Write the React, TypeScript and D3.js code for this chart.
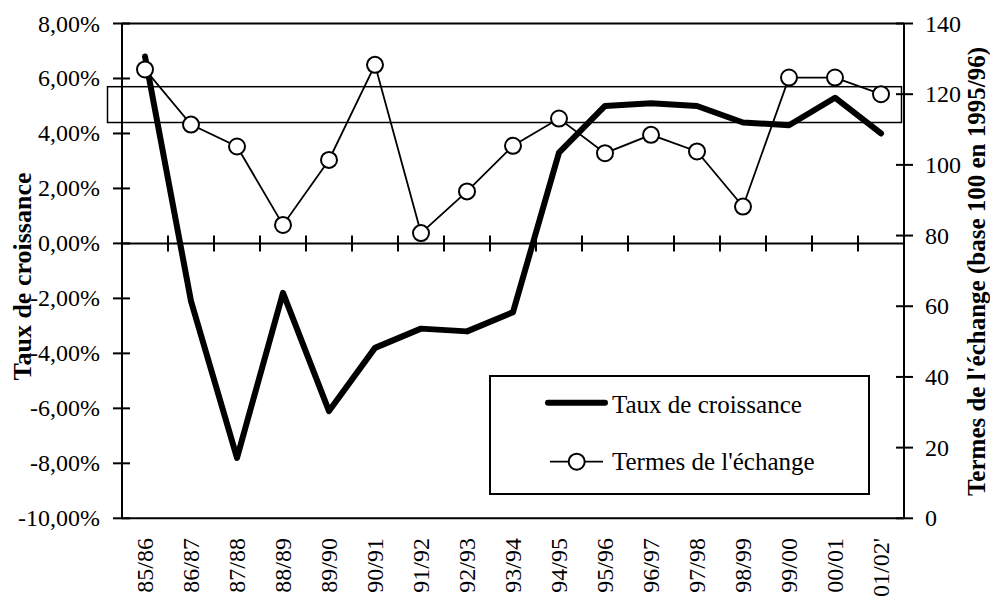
import React from "react";
import * as d3 from "d3";

const categories = ["85/86","86/87","87/88","88/89","89/90","90/91","91/92","92/93","93/94","94/95","95/96","96/97","97/98","98/99","99/00","00/01","01/02'"];
const tauxCroissance = [6.8,-2.1,-7.8,-1.8,-6.1,-3.8,-3.1,-3.2,-2.5,3.3,5.0,5.1,5.0,4.4,4.3,5.3,4.0];
const termesEchange = [127,111.4,105.2,83.0,101.4,128.3,80.7,92.5,105.4,113.1,103.3,108.5,103.8,88.2,124.7,124.7,120.0];
const leftTicks = [8,6,4,2,0,-2,-4,-6,-8,-10];
const rightTicks = [0,20,40,60,80,100,120,140];
const seriesNames = ["Taux de croissance","Termes de l'échange"];
const leftTitle = "Taux de croissance";
const rightTitle = "Termes de l'échange (base 100 en 1995/96)";

const W = 990, H = 598;
const L = 122, R = 904, T = 23.5, B = 518.3;
const FONT = "Liberation Serif";

const fmtPct = (v: number) => (v < 0 ? "-" : "") + Math.abs(v).toFixed(2).replace(".", ",") + "%";

export default function App() {
  const x = d3.scalePoint<string>().domain(categories).range([L, R]).padding(0.5);
  const step = x.step();
  const yL = d3.scaleLinear().domain([-10, 8]).range([B, T]);
  const yR = d3.scaleLinear().domain([0, 140]).range([B, T]);
  const y0 = yL(0);

  const lineL = d3.line<number>().x((_, i) => x(categories[i])!).y((d) => yL(d));
  const lineR = d3.line<number>().x((_, i) => x(categories[i])!).y((d) => yR(d));

  const boundaries = d3.range(1, categories.length).map((i) => L + i * step);
  const ts = { fontFamily: FONT } as React.CSSProperties;

  return (
    <svg width={W} height={H} style={{ position: "absolute", left: 0, top: 0, background: "#fff", fontFamily: FONT }}>
      <rect x={0} y={0} width={W} height={H} fill="#fff" />
      {/* frame */}
      <line x1={L} x2={R} y1={T} y2={T} stroke="#000" strokeWidth={2} />
      <line x1={L} x2={R} y1={B} y2={B} stroke="#000" strokeWidth={2} />
      <line x1={L} x2={L} y1={T} y2={B} stroke="#000" strokeWidth={2} />
      <line x1={R} x2={R} y1={T} y2={B} stroke="#000" strokeWidth={2} />
      {/* left ticks */}
      {leftTicks.map((t) => (
        <g key={"l" + t}>
          <line x1={L - 9} x2={L + 8} y1={yL(t)} y2={yL(t)} stroke="#000" strokeWidth={2} />
          <text style={ts} x={100} y={yL(t) + 8} textAnchor="end" fontSize={24}>{fmtPct(t)}</text>
        </g>
      ))}
      {/* right ticks */}
      {rightTicks.map((t) => (
        <g key={"r" + t}>
          <line x1={R - 8} x2={R + 9} y1={yR(t)} y2={yR(t)} stroke="#000" strokeWidth={2} />
          <text style={ts} x={925} y={yR(t) + 8} textAnchor="start" fontSize={24}>{t}</text>
        </g>
      ))}
      {/* category axis at zero */}
      <line x1={L} x2={R} y1={y0} y2={y0} stroke="#000" strokeWidth={2} />
      {boundaries.map((bx, i) => (
        <line key={"b" + i} x1={bx} x2={bx} y1={y0 - 8} y2={y0 + 8} stroke="#000" strokeWidth={2} />
      ))}
      {categories.map((c) => (
        <text style={ts} key={c} transform={`translate(${x(c)! + 8},538) rotate(-90)`} textAnchor="end" fontSize={24}>{c}</text>
      ))}
      {/* odd rectangle */}
      <rect x={107.5} y={86.7} width={794} height={35.8} fill="none" stroke="#000" strokeWidth={1.5} />
      {/* series */}
      <path d={lineL(tauxCroissance) || ""} fill="none" stroke="#000" strokeWidth={6} strokeLinejoin="round" strokeLinecap="round" />
      <path d={lineR(termesEchange) || ""} fill="none" stroke="#000" strokeWidth={1.8} />
      {termesEchange.map((v, i) => (
        <circle key={"c" + i} cx={x(categories[i])} cy={yR(v)} r={8} fill="#fff" stroke="#000" strokeWidth={2} />
      ))}
      {/* axis titles */}
      <text style={ts} transform={`translate(31,276.5) rotate(-90)`} textAnchor="middle" fontSize={26} fontWeight="bold">{leftTitle}</text>
      <text style={ts} transform={`translate(985,271.5) rotate(-90)`} textAnchor="middle" fontSize={25} fontWeight="bold">{rightTitle}</text>
      {/* legend */}
      <rect x={490} y={376} width={379} height={118} fill="#fff" stroke="#000" strokeWidth={2} />
      <line x1={548} x2={605} y1={402.7} y2={402.7} stroke="#000" strokeWidth={6} strokeLinecap="round" />
      <text style={ts} x={612} y={413} fontSize={25}>{seriesNames[0]}</text>
      <line x1={550} x2={603} y1={461.7} y2={461.7} stroke="#000" strokeWidth={1.8} />
      <circle cx={576.7} cy={461.7} r={8} fill="#fff" stroke="#000" strokeWidth={2} />
      <text style={ts} x={612} y={470} fontSize={25}>{seriesNames[1]}</text>
    </svg>
  );
}
